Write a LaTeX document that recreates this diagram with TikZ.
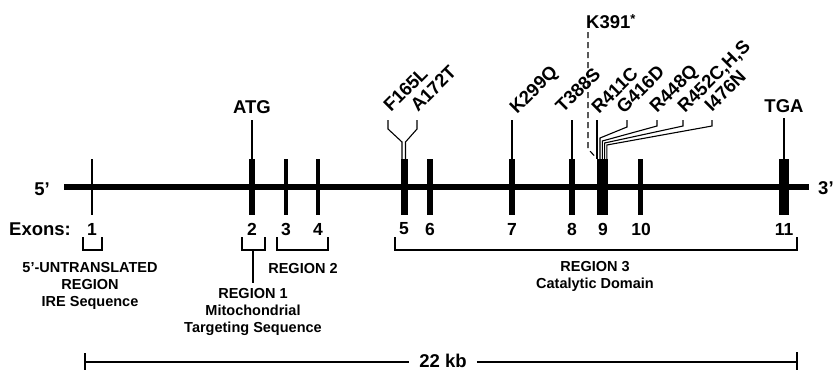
\documentclass[tikz,border=0pt]{standalone}
\usepackage{fontspec}
\setmainfont{Liberation Sans}
\begin{document}
\begin{tikzpicture}[x=1pt,y=-1pt,
  big/.style={font=\bfseries\fontsize{18.5}{20}\selectfont, inner sep=0pt},
  mut/.style={big, rotate=45, anchor=base west},
  num/.style={font=\bfseries\fontsize{17.5}{20}\selectfont, inner sep=0pt, anchor=center},
  small/.style={font=\bfseries\fontsize{14.5}{17}\selectfont, inner sep=0pt, align=center},
  exon/.style={rectangle, fill=black, draw=none, inner sep=0pt, minimum height=56pt},
  lead/.style={line width=1.1pt},
  brk/.style={line width=1.3pt},
  scalebar/.style={line width=1.5pt}]
\useasboundingbox (0,0) rectangle (834,370);

% backbone
\coordinate (L) at (64,187);
\coordinate (R) at (809,187);
\draw[line width=6pt] (L) -- (R);
\node[big, anchor=base] (p5) at (42,195) {5'};
\node[big, anchor=base west] (p3) at (818,194) {3'};

% exons
\node[exon, minimum width=2.6pt] (e1) at (92,187) {};
\node[exon, minimum width=6pt] (e2) at (252,187) {};
\node[exon, minimum width=4pt] (e3) at (286,187) {};
\node[exon, minimum width=4pt] (e4) at (318,187) {};
\node[exon, minimum width=7pt] (e5) at (404,187) {};
\node[exon, minimum width=6.5pt] (e6) at (430,187) {};
\node[exon, minimum width=6pt] (e7) at (512,187) {};
\node[exon, minimum width=6pt] (e8) at (572,187) {};
\node[exon, minimum width=11pt] (e9) at (602,187) {};
\node[exon, minimum width=5pt] (e10) at (640,187) {};
\node[exon, minimum width=10pt] (e11) at (784,187) {};

% exon numbers
\node[big, anchor=center] (exons) at (40,229) {Exons:};
\node[num] (n1) at (92,229) {1};
\node[num] (n2) at (252,229) {2};
\node[num] (n3) at (286,229) {3};
\node[num] (n4) at (318,229) {4};
\node[num] (n5) at (404,229) {5};
\node[num] (n6) at (430,229) {6};
\node[num] (n7) at (512,229) {7};
\node[num] (n8) at (572,229) {8};
\node[num] (n9) at (603,229) {9};
\node[num] (n10) at (641,229) {10};
\node[num] (n11) at (784,229) {11};

% brackets and region labels
\draw[brk] (83,237) |- (102,250) -- (102,237);
\draw[brk] (242,237) |- (265,250) -- (265,237);
\draw[brk] (277,237) |- (328,250) -- (328,237);
\draw[brk] (395,237) |- (797,250) -- (797,237);

\node[small, anchor=north] (utr) at (90,262.5) {5'-UNTRANSLATED\\REGION\\IRE Sequence};
\node[small, anchor=base] (r2) at (303,273) {REGION 2};
\node[small, anchor=north] (r1) at (253,288.5) {REGION 1\\Mitochondrial\\Targeting Sequence};
\draw[brk] (253,250) -- ([yshift=6pt]r1.north);
\node[small, anchor=north] (r3) at (595,261.5) {REGION 3\\Catalytic Domain};

% scale bar
\coordinate (bL) at (85,362);
\coordinate (bR) at (797,362);
\node[big, anchor=base, inner xsep=10pt] (kb) at (443,367) {22 kb};
\draw[scalebar] (bL) -- (kb.west |- bL);
\draw[scalebar] (kb.east |- bR) -- (bR);
\draw[scalebar] (85,353) -- (85,370);
\draw[scalebar] (797,352) -- (797,370);

% start / stop codons
\node[big, anchor=base] (atg) at (252,113) {ATG};
\draw[lead] ([yshift=-7pt]atg.south) -- (e2.north);
\node[big, anchor=base] (tga) at (784,112) {TGA};
\draw[lead] ([yshift=-6pt]tga.south) -- (e11.north);

% mutations
\node[mut] (m1) at (391,113) {F165L};
\node[mut] (m2) at (418,113) {A172T};
\node[mut] (m3) at (517,115) {K299Q};
\node[mut] (m4) at (563,114) {T388S};
\node[mut] (m5) at (599,115) {R411C};
\node[mut] (m6) at (624,115) {G416D};
\node[mut] (m7) at (657,114) {R448Q};
\node[mut] (m8) at (685,114) {R452C,H,S};
\node[mut] (m9) at (712,113) {I476N};

\draw[lead] (388,120) -- (388,129) -- (402,142) -- (402,159);
\draw[lead] (417,120) -- (417,129) -- (405.5,142) -- (405.5,159);
\draw[lead] (512,120) -- (e7.north);
\draw[lead] (572,120) -- (e8.north);
\draw[lead] (597,120) -- (597,159);
\draw[lead] (627,120) -- (627,127) -- (600,138) -- (600,159);
\draw[lead] (657,120) -- (657,126) -- (602.3,141) -- (602.3,159);
\draw[lead] (683,120) -- (683,126) -- (604.6,143) -- (604.6,159);
\draw[lead] (712,120) -- (712,126) -- (606.8,145) -- (606.8,159);

% K391*
\node[big, anchor=base west] (k391) at (586,28) {K391\raisebox{5pt}{\fontsize{13}{13}\selectfont *}};
\draw[lead, dash pattern=on 6pt off 4pt] (588,32) -- (588,149) -- (596.5,158);
\end{tikzpicture}
\end{document}
